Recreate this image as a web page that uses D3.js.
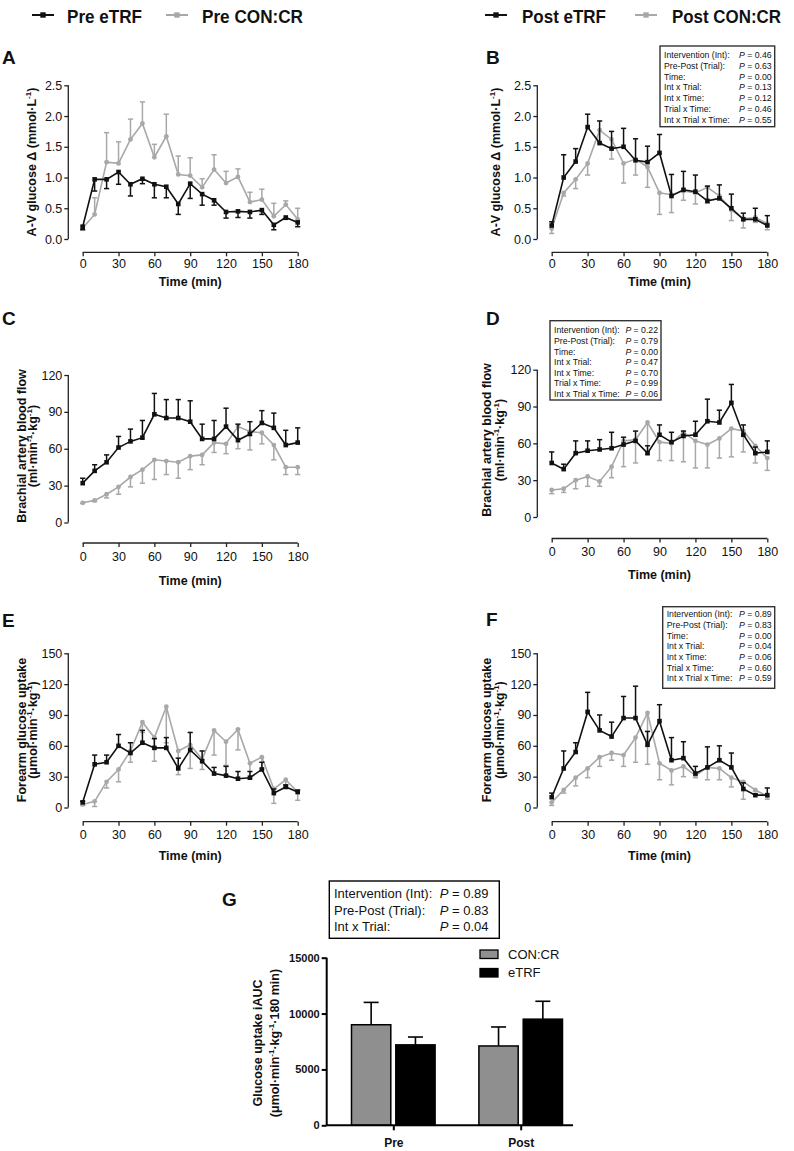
<!DOCTYPE html>
<html><head><meta charset="utf-8">
<script src="https://cdn.jsdelivr.net/npm/d3@7"></script>
<style>
body{margin:0;background:#fff;}
svg text{font-family:"Liberation Sans",Arial,Helvetica,sans-serif;fill:#111;}
</style></head>
<body><svg id="c" width="794" height="1151"></svg>
<script>
// ---------- DATA ----------
const timePoints = [0,10,20,30,40,50,60,70,80,90,100,110,120,130,140,150,160,170,180];
const timeTicks = [0,30,60,90,120,150,180];

// A: A-V glucose, Pre
const preETRF_AV = [0.20,0.97,0.97,1.09,0.89,0.98,0.89,0.85,0.57,0.90,0.73,0.63,0.44,0.45,0.44,0.47,0.23,0.35,0.27];
const preETRF_AV_err = [0.05,0.19,0.15,0.20,0.19,0.08,0.22,0.18,0.17,0.24,0.18,0.08,0.10,0.10,0.10,0.07,0.08,0.03,0.07];
const preCON_AV = [0.18,0.40,1.25,1.23,1.62,1.88,1.33,1.67,1.05,1.03,0.84,1.13,0.91,1.01,0.60,0.64,0.37,0.56,0.32];
const preCON_AV_err = [0.04,0.27,0.48,0.35,0.33,0.35,0.21,0.36,0.30,0.29,0.14,0.24,0.19,0.13,0.16,0.17,0.21,0.06,0.18];
// B: A-V glucose, Post
const postETRF_AV = [0.22,1.00,1.26,1.82,1.56,1.47,1.50,1.28,1.25,1.40,0.70,0.80,0.77,0.62,0.66,0.50,0.32,0.32,0.22];
const postETRF_AV_err = [0.06,0.37,0.21,0.21,0.36,0.28,0.30,0.35,0.26,0.30,0.35,0.30,0.27,0.24,0.22,0.23,0.10,0.18,0.16];
const postCON_AV = [0.17,0.75,0.97,1.23,1.77,1.62,1.23,1.30,1.17,0.75,0.72,0.78,0.75,0.84,0.70,0.47,0.33,0.35,0.25];
const postCON_AV_err = [0.08,0.05,0.15,0.19,0.21,0.32,0.32,0.26,0.33,0.35,0.29,0.15,0.18,0.26,0.05,0.17,0.15,0.08,0.10];
// C: brachial blood flow, Pre
const preETRF_BF = [32,42,49,61,66,69,88,85,85,82,68,68,78,67,72,81,77,63,65];
const preETRF_BF_err = [4,5,6,9,10,14,17,15,15,17,12,15,15,13,10,10,12,12,12];
const preCON_BF = [16,18,23,29,37,43,51,50,49,54,55,65,64,78,74,73,63,45,45];
const preCON_BF_err = [0.5,1,3,6,8,11,16,11,13,11,8,8,8,18,15,9,12,6,6];
// D: brachial blood flow, Post
const postETRF_BF = [44,39,52,54,55,56,59,62,52,67,61,66,67,78,77,93,67,52,53];
const postETRF_BF_err = [9,4,10,8,8,13,6,8,6,8,8,4,11,18,10,15,8,5,9];
const postCON_BF = [22,23,30,33,29,41,62,63,77,61,60,69,62,59,64,72,70,58,48];
const postCON_BF_err = [3,3,7,8,4,9,21,19,26,15,14,24,22,19,16,23,17,14,10];
// E: forearm glucose uptake, Pre
const preETRF_GU = [5,42,44,60,53,63,58,58,38,56,45,33,31,28,29,37,14,20,15];
const preETRF_GU_err = [1,9,7,11,10,12,9,10,10,17,10,6,9,7,6,7,4,2,2];
const preCON_GU = [3,6,25,37,55,83,68,98,55,61,47,75,64,76,43,49,18,27,15];
const preCON_GU_err = [1,5,6,12,11,10,23,35,23,23,10,24,23,20,15,11,14,7,8];
// F: forearm glucose uptake, Post
const postETRF_GU = [10,38,54,93,75,69,87,87,61,84,46,48,33,39,46,39,18,12,12];
const postETRF_GU_err = [4,17,9,19,15,14,21,31,13,16,22,16,7,20,14,14,6,1,7];
const postCON_GU = [5,17,29,38,49,53,51,68,92,43,36,40,31,39,38,29,25,17,11];
const postCON_GU_err = [3,3,8,9,9,7,11,24,50,16,14,10,2,12,11,9,17,1,3];

// stats
const statLabels = ["Intervention (Int):","Pre-Post (Trial):","Time:","Int x Trial:","Int x Time:","Trial x Time:","Int x Trial x Time:"];
const statsB = ["0.46","0.63","0.00","0.13","0.12","0.46","0.55"];
const statsD = ["0.22","0.79","0.00","0.47","0.70","0.99","0.06"];
const statsF = ["0.89","0.83","0.00","0.04","0.06","0.60","0.59"];
const statLabelsG = ["Intervention (Int):","Pre-Post (Trial):","Int x Trial:"];
const statsG = ["0.89","0.83","0.04"];

// G: iAUC bars
const aucGroups = ["Pre","Post"];
const aucSeries = ["CON:CR","eTRF"];
const aucCON = [9000,7100];
const aucCON_err = [2000,1700];
const aucETRF = [7200,9500];
const aucETRF_err = [700,1600];
const aucTicks = [0,5000,10000,15000];

// top legends
const legendLabels = ["Pre eTRF","Pre CON:CR","Post eTRF","Post CON:CR"];

// ---------- DRAW ----------
const svg = d3.select("#c");
const BLACK = "#111", GREY = "#a8a8a8";

function ylabel(g, x, y, lines){
  lines.forEach((ln,i)=>{
    const t = g.append("text").attr("transform",`translate(${ln.x},${y}) rotate(-90)`)
      .attr("text-anchor","middle").attr("dominant-baseline","central")
      .style("font-size","12.5px").style("font-weight","bold");
    ln.parts.forEach(p=>{
      const ts = t.append("tspan").text(p.t);
      if(p.sup){ ts.attr("dy","-4").style("font-size","8px"); }
      else if(p.after){ ts.attr("dy","4"); }
    });
  });
}

function panel(cfg){
  const g = svg.append("g");
  const x = d3.scaleLinear().domain([0,180]).range(cfg.xr);
  const y = d3.scaleLinear().domain(cfg.ydom).range(cfg.yr);
  const ya = g.append("g").attr("transform",`translate(${cfg.yx},0)`)
    .call(d3.axisLeft(y).tickValues(cfg.yticks).tickSize(4).tickPadding(2).tickFormat(cfg.yfmt));
  const xa = g.append("g").attr("transform",`translate(0,${cfg.xy})`)
    .call(d3.axisBottom(x).tickValues(timeTicks).tickSize(4).tickPadding(cfg.tp));
  [ya,xa].forEach(a=>{
    a.select(".domain").attr("stroke","#222").attr("stroke-width",1.3);
    a.selectAll(".tick line").attr("stroke","#222").attr("stroke-width",1.3);
    a.selectAll(".tick text").style("font-size","12.5px").style("font-family","Liberation Sans, Arial, sans-serif").attr("fill","#222");
  });
  ya.select(".domain").attr("d",`M0,${cfg.yr[0]}V${cfg.yr[1]}`);
  xa.select(".domain").attr("d",`M${cfg.xr[0]},0H${cfg.xr[1]}`);
  g.append("text").attr("x",(cfg.xr[0]+cfg.xr[1])/2).attr("y",cfg.xy+cfg.tt)
    .attr("text-anchor","middle").style("font-size","12.5px").style("font-weight","bold").text("Time (min)");
  cfg.series.forEach(s=>{
    const pts = timePoints.map((t,i)=>({t, v:s.v[i], e:s.e[i]}));
    const sg = g.append("g");
    pts.forEach(p=>{
      const y0 = y(p.v), y1 = y(p.v + s.dir*p.e);
      sg.append("line").attr("x1",x(p.t)).attr("x2",x(p.t)).attr("y1",y0).attr("y2",y1)
        .attr("stroke",s.c).attr("stroke-width",1.5);
      sg.append("line").attr("x1",x(p.t)-2.6).attr("x2",x(p.t)+2.6).attr("y1",y1).attr("y2",y1)
        .attr("stroke",s.c).attr("stroke-width",1.5);
    });
    sg.append("path").datum(pts).attr("fill","none").attr("stroke",s.c).attr("stroke-width",1.6)
      .attr("d",d3.line().x(d=>x(d.t)).y(d=>y(d.v)));
    if(s.shape==="sq"){
      sg.selectAll("rect.m").data(pts).join("rect").attr("class","m")
        .attr("x",d=>x(d.t)-2.3).attr("y",d=>y(d.v)-2.3).attr("width",4.6).attr("height",4.6).attr("fill",s.c);
    } else {
      sg.selectAll("circle.m").data(pts).join("circle").attr("class","m")
        .attr("cx",d=>x(d.t)).attr("cy",d=>y(d.v)).attr("r",2.4).attr("fill",s.c);
    }
  });
  g.append("text").attr("x",cfg.lx).attr("y",cfg.ly).style("font-size","19px").style("font-weight","bold").text(cfg.letter);
  ylabel(g, 0, cfg.ylc, cfg.ylab);
  if(cfg.stats){
    const b = cfg.stats;
    g.append("rect").attr("x",b.x0).attr("y",b.y0).attr("width",b.x1-b.x0).attr("height",b.y1-b.y0)
      .attr("fill","#fff").attr("stroke","#333").attr("stroke-width",1.4);
    statLabels.forEach((l,i)=>{
      const yy = b.by + i*b.dy;
      g.append("text").attr("x",b.x0+4).attr("y",yy).style("font-size","8.7px").text(l);
      const t = g.append("text").attr("x",b.x1-3).attr("y",yy).attr("text-anchor","end").style("font-size","8.7px");
      t.append("tspan").style("font-style","italic").text("P");
      t.append("tspan").text(" = "+b.vals[i]);
    });
  }
}

const avLab = x=>[{x, parts:[{t:"A-V glucose Δ (mmol·L"},{t:"-1",sup:true},{t:")",after:true}]}];
const bfLab = (x1,x2)=>[{x:x1, parts:[{t:"Brachial artery blood flow"}]},
  {x:x2, parts:[{t:"(ml·min"},{t:"-1",sup:true},{t:"·kg",after:true},{t:"-1",sup:true},{t:")",after:true}]}];
const guLab = (x1,x2)=>[{x:x1, parts:[{t:"Forearm glucose uptake"}]},
  {x:x2, parts:[{t:"(μmol·min"},{t:"-1",sup:true},{t:"·kg",after:true},{t:"-1",sup:true},{t:")",after:true}]}];

const f1 = d3.format(".1f"), f0 = d3.format("d");
const L = {yx:68.3, xr:[82.7,297.7], lx:2, yl1:21.7, yl2:33.3};
const R = {yx:537.3, xr:[551.7,767.3], lx:486, yl1:486.7, yl2:500};

panel({letter:"A", lx:L.lx, ly:64, yx:L.yx, xr:L.xr, ydom:[0,2.5], yr:[239,85.3], yticks:[0,0.5,1,1.5,2,2.5], yfmt:f1,
  xy:252.3, tp:3, tt:33.5, ylc:162, ylab:avLab(32),
  series:[{v:preCON_AV,e:preCON_AV_err,dir:1,c:GREY,shape:"ci"},{v:preETRF_AV,e:preETRF_AV_err,dir:-1,c:BLACK,shape:"sq"}]});
panel({letter:"B", lx:R.lx, ly:64, yx:R.yx, xr:R.xr, ydom:[0,2.5], yr:[239,85.3], yticks:[0,0.5,1,1.5,2,2.5], yfmt:f1,
  xy:252.3, tp:3, tt:33.5, ylc:162, ylab:avLab(495.5),
  stats:{x0:660,x1:774.7,y0:46,y1:126.7,by:58,dy:10.75,vals:statsB},
  series:[{v:postCON_AV,e:postCON_AV_err,dir:-1,c:GREY,shape:"ci"},{v:postETRF_AV,e:postETRF_AV_err,dir:1,c:BLACK,shape:"sq"}]});
panel({letter:"C", lx:L.lx, ly:325, yx:L.yx, xr:L.xr, ydom:[0,120], yr:[522.5,375], yticks:[0,30,60,90,120], yfmt:f0,
  xy:543, tp:5, tt:42, ylc:446, ylab:bfLab(L.yl1,L.yl2),
  series:[{v:preCON_BF,e:preCON_BF_err,dir:-1,c:GREY,shape:"ci"},{v:preETRF_BF,e:preETRF_BF_err,dir:1,c:BLACK,shape:"sq"}]});
panel({letter:"D", lx:R.lx, ly:325, yx:R.yx, xr:R.xr, ydom:[0,120], yr:[517,369.7], yticks:[0,30,60,90,120], yfmt:f0,
  xy:538.5, tp:5, tt:40.5, ylc:440, ylab:bfLab(R.yl1,R.yl2),
  stats:{x0:550,x1:661,y0:320.7,y1:400,by:333.3,dy:10.6,vals:statsD},
  series:[{v:postCON_BF,e:postCON_BF_err,dir:-1,c:GREY,shape:"ci"},{v:postETRF_BF,e:postETRF_BF_err,dir:1,c:BLACK,shape:"sq"}]});
panel({letter:"E", lx:L.lx, ly:627, yx:L.yx, xr:L.xr, ydom:[0,150], yr:[807.5,653.3], yticks:[0,30,60,90,120,150], yfmt:f0,
  xy:821.7, tp:4, tt:38.3, ylc:730, ylab:guLab(L.yl1,L.yl2),
  series:[{v:preCON_GU,e:preCON_GU_err,dir:-1,c:GREY,shape:"ci"},{v:preETRF_GU,e:preETRF_GU_err,dir:1,c:BLACK,shape:"sq"}]});
panel({letter:"F", lx:R.lx, ly:626, yx:R.yx, xr:R.xr, ydom:[0,150], yr:[807.5,653.3], yticks:[0,30,60,90,120,150], yfmt:f0,
  xy:821.7, tp:4, tt:38.3, ylc:730, ylab:guLab(R.yl1,R.yl2),
  stats:{x0:662.7,x1:774.7,y0:606.7,y1:688.3,by:617.3,dy:10.65,vals:statsF},
  series:[{v:postCON_GU,e:postCON_GU_err,dir:-1,c:GREY,shape:"ci"},{v:postETRF_GU,e:postETRF_GU_err,dir:1,c:BLACK,shape:"sq"}]});

// ---------- top legends ----------
const legPos = [{sx:32,tx:67,w:75,c:BLACK},{sx:166,tx:202,w:101,c:GREY},{sx:485,tx:522,w:84,c:BLACK},{sx:635,tx:672,w:109,c:GREY}];
legendLabels.forEach((lab,i)=>{
  const p = legPos[i];
  svg.append("line").attr("x1",p.sx).attr("x2",p.sx+22).attr("y1",15).attr("y2",15).attr("stroke",p.c).attr("stroke-width",2);
  svg.append("rect").attr("x",p.sx+11-2.7).attr("y",15-2.7).attr("width",5.4).attr("height",5.4).attr("fill",p.c);
  svg.append("text").attr("x",p.tx).attr("y",22.5).attr("textLength",p.w).attr("lengthAdjust","spacingAndGlyphs")
    .style("font-family","'Liberation Sans Narrow','Arial Narrow','Liberation Sans',sans-serif")
    .style("font-size","18px").style("font-weight","bold").text(lab);
});

// ---------- G ----------
(function(){
  const g = svg.append("g");
  const y = d3.scaleLinear().domain([0,15000]).range([1125.3,957.7]);
  const xg = d3.scalePoint().domain(aucGroups).range([393.3,520.7]);
  const xs = d3.scaleBand().domain(aucSeries).range([-41.8,41.8]).paddingInner(0.113);
  const vals = {"CON:CR":[aucCON,aucCON_err,"#8f8f8f"], "eTRF":[aucETRF,aucETRF_err,"#000"]};
  aucGroups.forEach((grp,gi)=>{
    aucSeries.forEach(s=>{
      const [v,e,c] = vals[s];
      const x0 = xg(grp)+xs(s), w = xs.bandwidth(), cx = x0+w/2;
      g.append("line").attr("x1",cx).attr("x2",cx).attr("y1",y(v[gi])).attr("y2",y(v[gi]+e[gi])).attr("stroke","#000").attr("stroke-width",1.6);
      g.append("line").attr("x1",cx-7.5).attr("x2",cx+7.5).attr("y1",y(v[gi]+e[gi])).attr("y2",y(v[gi]+e[gi])).attr("stroke","#000").attr("stroke-width",1.6);
      g.append("rect").attr("x",x0).attr("y",y(v[gi])).attr("width",w).attr("height",y(0)-y(v[gi]))
        .attr("fill",c).attr("stroke","#000").attr("stroke-width",1.5);
    });
  });
  const ya = g.append("g").attr("transform","translate(326.7,0)")
    .call(d3.axisLeft(y).tickValues(aucTicks).tickSize(5).tickPadding(2).tickFormat(d3.format("d")));
  ya.select(".domain").attr("d","M0,1125.3V957.7").attr("stroke","#000").attr("stroke-width",2);
  ya.selectAll(".tick line").attr("stroke","#000").attr("stroke-width",2);
  ya.selectAll(".tick text").style("font-size","11px").style("font-weight","bold").style("font-family","Liberation Sans, Arial, sans-serif").attr("fill","#111");
  const xa = g.append("g").attr("transform","translate(0,1125.3)")
    .call(d3.axisBottom(xg).tickSize(5).tickPadding(8));
  xa.select(".domain").attr("d","M326.7,0H573").attr("stroke","#000").attr("stroke-width",2);
  xa.selectAll(".tick line").attr("stroke","#000").attr("stroke-width",2);
  xa.selectAll(".tick text").style("font-size","12px").style("font-weight","bold").style("font-family","Liberation Sans, Arial, sans-serif").attr("fill","#111");
  g.append("text").attr("x",222).attr("y",906).style("font-size","19px").style("font-weight","bold").text("G");
  ylabel(g,0,1043,[{x:258,parts:[{t:"Glucose uptake iAUC"}]},
    {x:274.5,parts:[{t:"(μmol·min"},{t:"-1",sup:true},{t:"·kg",after:true},{t:"-1",sup:true},{t:"·180 min)",after:true}]}]);
  aucSeries.forEach((s,i)=>{
    const yy = 950 + i*18.5;
    g.append("rect").attr("x",480).attr("y",yy).attr("width",18).attr("height",8.5).attr("fill",vals[s][2]).attr("stroke","#000").attr("stroke-width",1.3);
    g.append("text").attr("x",508).attr("y",yy+8.5).style("font-size","13px").text(s);
  });
  g.append("rect").attr("x",329.3).attr("y",881).attr("width",170).attr("height",57.3).attr("fill","#fff").attr("stroke","#000").attr("stroke-width",1.4);
  statLabelsG.forEach((l,i)=>{
    const yy = 898 + i*16.5;
    g.append("text").attr("x",334).attr("y",yy).style("font-size","13px").text(l);
    const t = g.append("text").attr("x",488.5).attr("y",yy).attr("text-anchor","end").style("font-size","13px");
    t.append("tspan").style("font-style","italic").text("P");
    t.append("tspan").text(" = "+statsG[i]);
  });
})();
</script></body></html>
